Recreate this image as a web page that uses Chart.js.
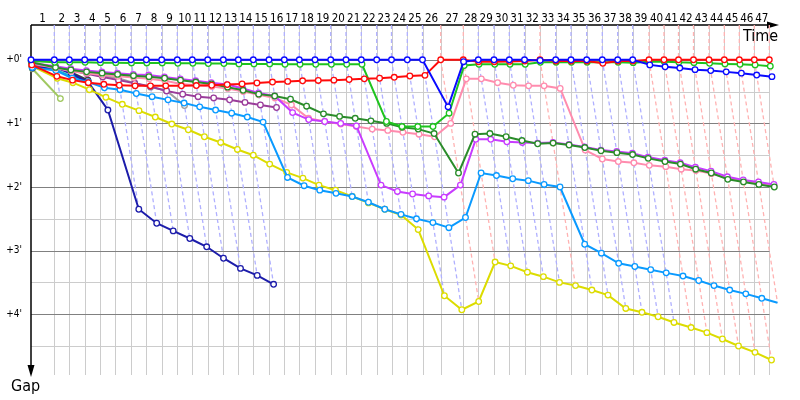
<!DOCTYPE html>
<html><head><meta charset="utf-8">
<script src="https://cdn.jsdelivr.net/npm/chart.js@4/dist/chart.umd.min.js"></script>
<style>html,body{margin:0;padding:0;background:#fff}#wrap{width:800px;height:400px;position:relative}</style>
</head><body><div id="wrap"><canvas id="c"></canvas></div>
<script>
// Lap tick labels (top axis)
const lapLabels = ['1','2','3','4','5','6','7','8','9','10','11','12','13','14','15','16','17','18','19','20','21','22','23','24','25','26','27','28','29','30','31','32','33','34','35','36','37','38','39','40','41','42','43','44','45','46','47'];
// Leader's elapsed time (minutes) at the end of each lap, index = lap (0 = start)
const leaderTimes = [0,2.33,3.83,5.37,6.90,8.43,10.00,11.53,13.07,14.63,16.13,17.67,19.23,20.73,22.23,23.80,25.33,26.83,28.40,29.97,31.50,33.03,34.57,36.05,37.63,39.15,40.97,43.23,44.73,46.30,47.83,49.35,50.90,52.47,54.00,55.57,57.13,58.67,60.17,61.80,63.30,64.75,66.25,67.80,69.33,70.83,72.33,73.83];
// Which car led each lap (index = lap)
const leaderByLap = [null,'B','B','B','B','B','B','B','B','B','B','B','B','B','B','B','B','B','B','B','B','B','B','B','B','B','R','R','B','B','B','B','R','B','B','B','B','B','B','R','R','R','R','R','R','R','R','R'];
// Gap behind the leader (minutes) at the end of each lap, index = lap
const gapBlue   = [0,0,0,0,0,0,0,0,0,0,0,0,0,0,0,0,0,0,0,0,0,0,0,0,0,0,0.74,0.03,0,0,0,0,0.01,0,0,0,0,0,0,0.08,0.11,0.13,0.155,0.17,0.19,0.21,0.24,0.265];
const gapRed    = [0.08,0.26,0.32,0.36,0.385,0.40,0.41,0.41,0.41,0.41,0.405,0.40,0.39,0.38,0.365,0.35,0.34,0.33,0.325,0.32,0.31,0.30,0.29,0.275,0.255,0.245,0,0,0.03,0.03,0.025,0.02,0,0.02,0.02,0.02,0.055,0.02,0.02,0,0,0,0,0,0,0,0,0];
const gapGreen  = [0.02,0.04,0.04,0.04,0.045,0.045,0.05,0.05,0.05,0.055,0.055,0.06,0.06,0.065,0.065,0.065,0.07,0.07,0.07,0.07,0.07,0.07,0.97,1.05,1.05,1.05,0.84,0.09,0.07,0.07,0.07,0.07,0.04,0.04,0.04,0.04,0.04,0.04,0.045,0.03,0.03,0.04,0.045,0.055,0.065,0.07,0.08,0.10];
const gapDkGreen= [0.04,0.12,0.16,0.19,0.21,0.23,0.25,0.266,0.29,0.32,0.35,0.38,0.43,0.48,0.54,0.57,0.62,0.73,0.85,0.89,0.92,0.96,1.00,1.06,1.09,1.16,1.78,1.17,1.16,1.21,1.27,1.32,1.31,1.34,1.38,1.43,1.46,1.49,1.55,1.60,1.64,1.72,1.78,1.88,1.92,1.96,2.00];
const gapMagenta= [0.05,0.10,0.14,0.17,0.19,0.21,0.23,0.24,0.27,0.30,0.33,0.36,0.39,0.45,0.52,0.57,0.83,0.94,0.97,1.00,1.04,1.97,2.07,2.11,2.14,2.16,1.97,1.25,1.25,1.29,1.30,1.31,1.30,1.33,1.37,1.42,1.44,1.47,1.53,1.58,1.62,1.69,1.75,1.84,1.89,1.92,1.96];
const gapPink   = [0.06,0.13,0.18,0.21,0.24,0.26,0.28,0.30,0.33,0.38,0.40,0.42,0.45,0.50,0.55,0.60,0.71,0.92,0.97,1.01,1.05,1.09,1.11,1.14,1.17,1.21,1.00,0.30,0.30,0.36,0.40,0.41,0.41,0.45,1.42,1.56,1.60,1.62,1.66,1.68,1.72,1.74,1.79,1.86,1.91,1.95,1.98];
const gapGray   = [0.07,0.11,0.16,0.20,0.25,0.29,0.37,0.43,0.485,0.72];
const gapPurple = [0.08,0.12,0.17,0.22,0.27,0.32,0.37,0.42,0.49,0.54,0.58,0.60,0.63,0.67,0.71,0.75];
const gapLtBlue = [0.12,0.17,0.29,0.35,0.44,0.47,0.53,0.58,0.63,0.68,0.74,0.79,0.84,0.90,0.98,1.85,1.98,2.05,2.10,2.15,2.24,2.35,2.43,2.50,2.56,2.64,2.48,1.78,1.82,1.87,1.90,1.96,2.00,2.90,3.04,3.20,3.25,3.30,3.35,3.40,3.47,3.55,3.62,3.68,3.75,3.82];
const gapYellow = [0.10,0.29,0.36,0.47,0.59,0.70,0.80,0.90,1.01,1.10,1.21,1.30,1.41,1.50,1.64,1.77,1.86,1.97,2.05,2.15,2.25,2.35,2.44,2.67,3.71,3.93,3.80,3.18,3.24,3.34,3.41,3.50,3.55,3.62,3.70,3.91,3.97,4.04,4.13,4.21,4.29,4.39,4.50,4.60,4.72];
const gapNavy   = [0.13,0.12,0.22,0.35,0.79,2.35,2.57,2.69,2.81,2.94,3.12,3.28,3.39,3.53];
const gapBlack  = [0.09,0.11,0.20,0.32];
const gapTeal   = [0.11,0.16,0.26,0.33];
const gapYGreen = [0.14,0.61];
// y gridline values and labelled ticks
const yGridValues = [0.5,1.5,2.5,3.5,4.5,0,1,2,3,4];
const yTickLabels = ["+0'","+1'","+2'","+3'","+4'"];

const cars = [
  {gaps: gapBlue, color: '#0a0aff'},
  {gaps: gapRed, color: '#ff0a0a'},
  {gaps: gapGreen, color: '#1ec31e'},
  {gaps: gapDkGreen, color: '#2a8c2a'},
  {gaps: gapMagenta, color: '#c83cff'},
  {gaps: gapPink, color: '#ff8cae'},
  {gaps: gapLtBlue, color: '#0a9aff'},
  {gaps: gapYellow, color: '#dcdc00'},
  {gaps: gapNavy, color: '#1c1caa'},
  {gaps: gapPurple, color: '#9a3c9a'},
  {gaps: gapGray, color: '#a0a0a0'},
  {gaps: gapBlack, color: '#404040'},
  {gaps: gapTeal, color: '#10b8c8'},
  {gaps: gapYGreen, color: '#a0c860'}
];
const Y_MIN = -0.547, Y_MAX = 4.956;

const datasets = [];
cars.forEach((c, i) => {
  datasets.push({
    data: c.gaps.map((g, k) => ({x: leaderTimes[k] + g, y: g})),
    showLine: true, borderColor: c.color, borderWidth: 2,
    pointRadius: 2.8, pointBorderWidth: 1.3, pointBackgroundColor: '#ffffff', pointBorderColor: c.color,
    tension: 0, clip: false, order: i + 1
  });
});
// lap lines (dashed): a car with gap g crosses the line at leaderTime + g
for (let k = 1; k < leaderTimes.length; k++) {
  let gmax = 0;
  cars.forEach(c => { if (k < c.gaps.length && c.gaps[k] > gmax) gmax = c.gaps[k]; });
  datasets.push({
    data: [{x: leaderTimes[k], y: Y_MIN}, {x: leaderTimes[k], y: 0}, {x: leaderTimes[k] + gmax, y: gmax}],
    showLine: true, borderColor: leaderByLap[k] === 'R' ? '#ffb2b2' : '#b0b0ff', borderWidth: 1.3,
    borderDash: [4, 3], pointRadius: 0, tension: 0, clip: false, order: 100
  });
}

const deco = {
  id: 'deco',
  beforeDatasetsDraw(chart) {
    const {ctx, chartArea: a, scales: {x, y}} = chart;
    ctx.save();
    ctx.lineWidth = 1;
    ctx.strokeStyle = '#cccccc';
    leaderTimes.slice(1).forEach(t => {
      const px = Math.round(x.getPixelForValue(t)) + 0.5;
      ctx.beginPath(); ctx.moveTo(px, a.top); ctx.lineTo(px, a.bottom); ctx.stroke();
    });
    yGridValues.forEach(v => {
      const py = Math.round(y.getPixelForValue(v)) + 0.5;
      ctx.strokeStyle = Number.isInteger(v) ? '#808080' : '#cccccc';
      ctx.beginPath(); ctx.moveTo(a.left, py); ctx.lineTo(a.right, py); ctx.stroke();
    });
    // axes with arrows
    ctx.strokeStyle = '#000'; ctx.fillStyle = '#000'; ctx.lineWidth = 1.5;
    ctx.beginPath(); ctx.moveTo(a.left, a.top); ctx.lineTo(770, a.top); ctx.stroke();
    ctx.beginPath(); ctx.moveTo(767, a.top - 3.5); ctx.lineTo(779, a.top); ctx.lineTo(767, a.top + 3.5); ctx.closePath(); ctx.fill();
    ctx.beginPath(); ctx.moveTo(a.left, a.top); ctx.lineTo(a.left, 368); ctx.stroke();
    ctx.beginPath(); ctx.moveTo(a.left - 3.5, 365); ctx.lineTo(a.left, 377); ctx.lineTo(a.left + 3.5, 365); ctx.closePath(); ctx.fill();
    ctx.restore();
  },
  afterDraw(chart) {
    const {ctx, scales: {x, y}} = chart;
    ctx.save();
    ctx.fillStyle = '#000';
    ctx.font = '11.5px "DejaVu Sans Condensed", "DejaVu Sans", sans-serif';
    ctx.textAlign = 'center'; ctx.textBaseline = 'alphabetic';
    lapLabels.forEach((lab, i) => {
      const px = (x.getPixelForValue(leaderTimes[i]) + x.getPixelForValue(leaderTimes[i + 1])) / 2;
      ctx.fillText(lab, px, 22);
    });
    ctx.font = '10px "DejaVu Sans Condensed", "DejaVu Sans", sans-serif';
    ctx.textAlign = 'right'; ctx.textBaseline = 'middle';
    yTickLabels.forEach((lab, i) => ctx.fillText(lab, 22, y.getPixelForValue(i)));
    ctx.font = '16px "DejaVu Sans Condensed", "DejaVu Sans", sans-serif';
    ctx.textAlign = 'left'; ctx.textBaseline = 'alphabetic';
    ctx.fillText('Time', 743, 41);
    ctx.fillText('Gap', 11, 391);
    ctx.restore();
  }
};

new Chart(document.getElementById('c'), {
  type: 'scatter',
  data: {datasets},
  options: {
    responsive: true, maintainAspectRatio: false, animation: false,
    layout: {padding: {left: 31, right: 30.5, top: 25, bottom: 25}},
    plugins: {legend: {display: false}, tooltip: {enabled: false}},
    scales: {
      x: {type: 'linear', min: 0, max: 73.85, display: false},
      y: {type: 'linear', min: Y_MIN, max: Y_MAX, reverse: true, display: false}
    }
  },
  plugins: [deco]
});
</script></body></html>
